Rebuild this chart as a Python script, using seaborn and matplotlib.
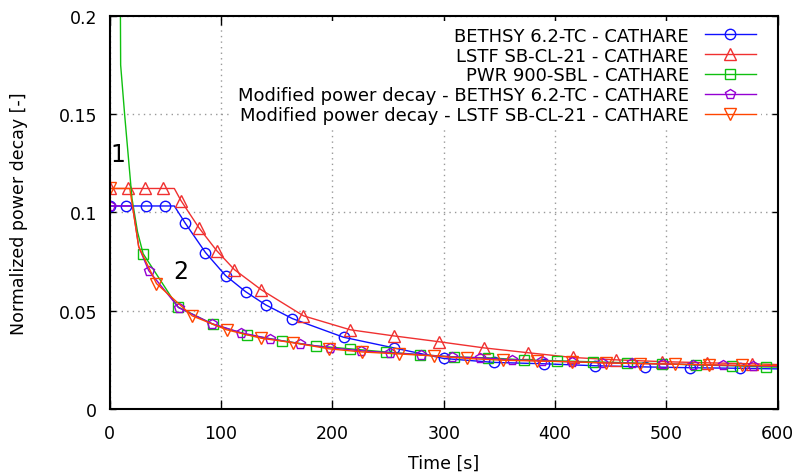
import matplotlib
matplotlib.use('Agg')
import matplotlib.pyplot as plt
import seaborn as sns
import pandas as pd

# Valores
bethsy_t = [0, 15, 33, 50, 58, 68, 86, 104, 122, 140, 164, 210, 255, 300, 345, 390, 436, 481, 521, 566, 600]
bethsy_p = [0.1033, 0.1033, 0.1033, 0.1033, 0.1033, 0.0944, 0.0796, 0.0679, 0.0597, 0.0530, 0.0460, 0.0365,
            0.0311, 0.0257, 0.0237, 0.0230, 0.0220, 0.0214, 0.0210, 0.0207, 0.0204]
bethsy_mk = [0, 1, 2, 3, 5, 6, 7, 8, 9, 10, 11, 12, 13, 14, 15, 16, 17, 18, 19]

lstf_t = [0, 16, 32, 48, 58, 64, 80, 96, 112, 136, 174, 216, 255, 296, 336, 376, 416, 455, 496, 536, 577, 600]
lstf_p = [0.1122, 0.1122, 0.1122, 0.1122, 0.1122, 0.1060, 0.0923, 0.0806, 0.0709, 0.0607, 0.0474, 0.0403,
          0.0372, 0.0342, 0.0311, 0.0286, 0.0262, 0.0250, 0.0241, 0.0235, 0.0230, 0.0226]
lstf_mk = [0, 1, 2, 3, 5, 6, 7, 8, 9, 10, 11, 12, 13, 14, 15, 16, 17, 18, 19, 20]

pwr_t = [8.8, 9.8, 13.5, 20, 25, 30, 61, 93, 123, 155, 185, 216, 248, 279, 309, 340, 372, 402, 434, 465, 496,
         527, 559, 589, 600]
pwr_p = [0.30, 0.175, 0.149, 0.107, 0.090, 0.079, 0.052, 0.043, 0.0378, 0.0347, 0.0321, 0.0306, 0.0290, 0.0276,
         0.0265, 0.0260, 0.0250, 0.0245, 0.0240, 0.0235, 0.0230, 0.0224, 0.0220, 0.0214, 0.0213]
pwr_mk = list(range(5, 24))

mod_bethsy_t = [0, 20.5, 26, 35, 62, 92, 118, 144, 171, 198, 226, 252, 280, 307, 333, 361, 388, 415, 442, 469,
                497, 524, 551, 578, 600]
mod_bethsy_p = [0.1033, 0.1033, 0.0826, 0.0704, 0.0515, 0.0434, 0.0388, 0.0357, 0.0332, 0.0311, 0.0296, 0.0286,
                0.0276, 0.0265, 0.0260, 0.0250, 0.0245, 0.0240, 0.0235, 0.0232, 0.0229, 0.0226, 0.0222, 0.0220,
                0.0217]
mod_bethsy_mk = [0] + list(range(3, 24))

mod_lstf_t = [0, 18, 26, 42, 74, 105, 136, 165, 197, 227, 260, 291, 321, 353, 384, 415, 446, 476, 508, 538,
              568, 600]
mod_lstf_p = [0.1122, 0.1122, 0.0826, 0.0638, 0.0474, 0.0403, 0.0360, 0.0337, 0.0306, 0.0290, 0.0280, 0.0270,
              0.0257, 0.0248, 0.0244, 0.0240, 0.0234, 0.0231, 0.0228, 0.0225, 0.0222, 0.0220]
mod_lstf_mk = [0] + list(range(3, 21))

series = [
    ('BETHSY 6.2-TC - CATHARE', bethsy_t, bethsy_p, bethsy_mk, '#1010ff', 'o', 7.5),
    ('LSTF SB-CL-21 - CATHARE', lstf_t, lstf_p, lstf_mk, '#f03030', '^', 8),
    ('PWR 900-SBL - CATHARE', pwr_t, pwr_p, pwr_mk, '#10c010', 's', 7),
    ('Modified power decay - BETHSY 6.2-TC - CATHARE', mod_bethsy_t, mod_bethsy_p, mod_bethsy_mk, '#9400d3', 'p', 7.5),
    ('Modified power decay - LSTF SB-CL-21 - CATHARE', mod_lstf_t, mod_lstf_p, mod_lstf_mk, '#ff4500', 'v', 8),
]

fig = plt.figure(figsize=(8.01, 4.77), dpi=100)
ax = fig.add_axes([0.137, 0.1405, 0.834, 0.824])

for label, t, p, mk, color, marker, ms in series:
    df = pd.DataFrame({'t': t, 'p': p})
    sns.lineplot(data=df, x='t', y='p', ax=ax, label=label, color=color, lw=1, sort=False,
                 marker=marker, markevery=mk, markersize=ms, markerfacecolor='none',
                 markeredgecolor=color, markeredgewidth=1)

ax.set_xlim(0, 600)
ax.set_ylim(0, 0.2)
ax.set_xticks([0, 100, 200, 300, 400, 500, 600])
ax.set_yticks([0, 0.05, 0.1, 0.15, 0.2])
ax.set_yticklabels(['0', '0.05', '0.1', '0.15', '0.2'])
ax.tick_params(axis='x', direction='in', length=6.5, width=1, top=True, labelsize=12.5, pad=11)
ax.tick_params(axis='y', direction='in', length=4.5, width=1, right=True, labelsize=12.5, pad=9)
for s in ax.spines.values():
    s.set_linewidth(1.5)
ax.grid(True, color='#999999', linestyle=(0, (1, 3)), lw=1)
ax.set_axisbelow(True)

ax.set_xlabel('Time [s]', fontsize=12.5, labelpad=8)
ax.set_ylabel('Normalized power decay [-]', fontsize=12.5, labelpad=22)

ax.text(7, 0.130, '1', fontsize=17, ha='center', va='center')
ax.text(64, 0.0704, '2', fontsize=17, ha='center', va='center')

leg = ax.legend(loc='upper right', bbox_to_anchor=(0.983, 1.0), markerfirst=False, fontsize=13,
                frameon=True, framealpha=1, edgecolor='none', fancybox=False, handlelength=2.8,
                labelspacing=0.1, borderaxespad=0.3, borderpad=0.3, handletextpad=0.9)

plt.savefig('out.png', dpi=100)
